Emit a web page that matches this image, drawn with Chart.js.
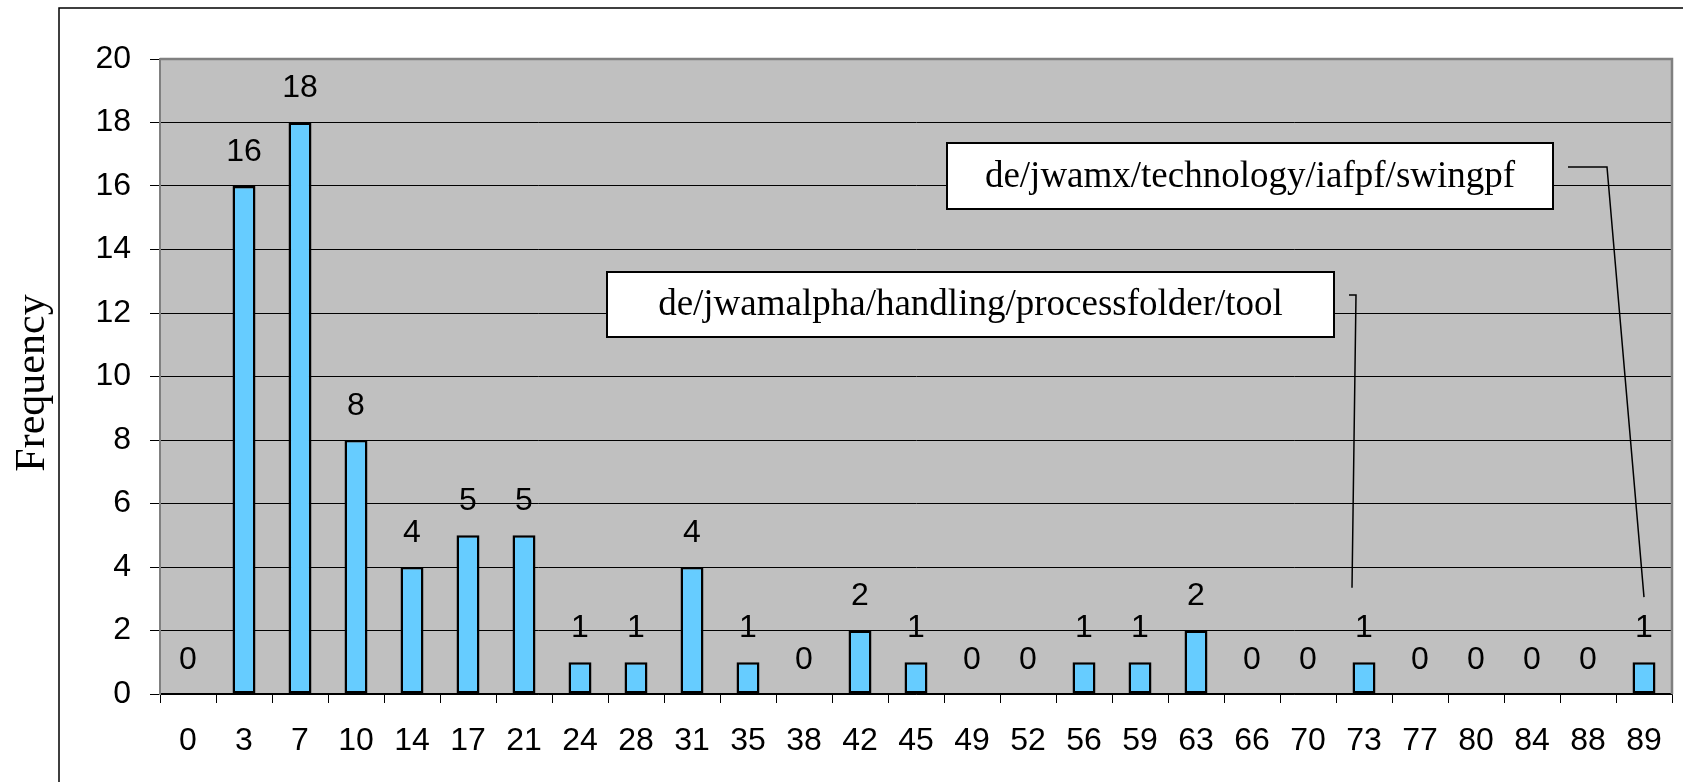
<!DOCTYPE html>
<html>
<head>
<meta charset="utf-8">
<title>Frequency</title>
<script src="https://cdn.jsdelivr.net/npm/chart.js@4.4.0/dist/chart.umd.min.js"></script>
<style>
  html, body { margin: 0; padding: 0; background: #ffffff; }
  canvas { display: block; }
</style>
</head>
<body>
<canvas id="chart" width="1683" height="782"></canvas>
<script>
// Bin labels along the x axis
const categories = ['0','3','7','10','14','17','21','24','28','31','35','38','42','45','49','52','56','59','63','66','70','73','77','80','84','88','89'];
// Count of packages per bin
const frequency = [0,16,18,8,4,5,5,1,1,4,1,0,2,1,0,0,1,1,2,0,0,1,0,0,0,0,1];
// Y axis range and step
const yMin = 0, yMax = 20, yStep = 2;
// Callout texts and the bins they point at
const calloutTexts = ['de/jwamalpha/handling/processfolder/tool', 'de/jwamx/technology/iafpf/swingpf'];
const calloutBins = ['73', '89'];

const SANS = '"Liberation Sans", Arial, sans-serif';
const SERIF = '"Liberation Serif", "Times New Roman", serif';
const LABEL_SIZE = 32;

const decorations = {
  id: 'decorations',
  beforeDraw(chart) {
    const { ctx, chartArea: a } = chart;
    ctx.save();
    ctx.fillStyle = '#ffffff';
    ctx.fillRect(0, 0, chart.width, chart.height);
    // outer frame
    ctx.strokeStyle = '#000000';
    ctx.lineWidth = 1.5;
    ctx.beginPath();
    ctx.moveTo(59, chart.height);
    ctx.lineTo(59, 8);
    ctx.lineTo(chart.width, 8);
    ctx.stroke();
    // plot background
    ctx.fillStyle = '#c0c0c0';
    ctx.fillRect(a.left, a.top, a.right - a.left, a.bottom - a.top);
    // y axis title
    ctx.translate(33, 383);
    ctx.rotate(-Math.PI / 2);
    ctx.fillStyle = '#000000';
    ctx.font = '42px ' + SERIF;
    ctx.textAlign = 'center';
    ctx.textBaseline = 'middle';
    ctx.fillText('Frequency', 0, 0);
    ctx.restore();
  },
  afterDatasetsDraw(chart) {
    const { ctx, chartArea: a } = chart;
    ctx.save();
    // plot frame (top and right)
    ctx.strokeStyle = '#808080';
    ctx.lineWidth = 2.5;
    ctx.beginPath();
    ctx.moveTo(a.left, a.top);
    ctx.lineTo(a.right, a.top);
    ctx.lineTo(a.right, a.bottom);
    ctx.stroke();
    // value labels above bars
    const meta = chart.getDatasetMeta(0);
    ctx.fillStyle = '#000000';
    ctx.font = LABEL_SIZE + 'px ' + SANS;
    ctx.textAlign = 'center';
    ctx.textBaseline = 'middle';
    meta.data.forEach((bar, i) => {
      ctx.fillText(String(frequency[i]), bar.x, bar.y - 34);
    });
    ctx.restore();
  },
  afterDraw(chart) {
    const { ctx } = chart;
    const xs = chart.scales.x, ys = chart.scales.y;
    const boxes = [
      { x0: 607, y0: 272, x1: 1334, y1: 337, hook: [1349, 1356, 295], tipVal: 3.35, tipDx: -12 },
      { x0: 947, y0: 143, x1: 1553, y1: 209, hook: [1568, 1607, 167], tipVal: 3.05, tipDx: 0 }
    ];
    ctx.save();
    boxes.forEach((b, i) => {
      const tipX = xs.getPixelForValue(categories.indexOf(calloutBins[i])) + b.tipDx;
      const tipY = ys.getPixelForValue(b.tipVal);
      ctx.strokeStyle = '#000000';
      ctx.lineWidth = 1.5;
      ctx.beginPath();
      ctx.moveTo(b.hook[0], b.hook[2]);
      ctx.lineTo(b.hook[1], b.hook[2]);
      ctx.lineTo(tipX, tipY);
      ctx.stroke();
      ctx.fillStyle = '#ffffff';
      ctx.fillRect(b.x0, b.y0, b.x1 - b.x0, b.y1 - b.y0);
      ctx.lineWidth = 2;
      ctx.strokeRect(b.x0, b.y0, b.x1 - b.x0, b.y1 - b.y0);
      ctx.fillStyle = '#000000';
      ctx.font = '37px ' + SERIF;
      ctx.textAlign = 'center';
      ctx.textBaseline = 'middle';
      ctx.fillText(calloutTexts[i], (b.x0 + b.x1) / 2, (b.y0 + b.y1) / 2 + 1);
    });
    ctx.restore();
  }
};

new Chart(document.getElementById('chart'), {
  type: 'bar',
  data: {
    labels: categories,
    datasets: [{
      data: frequency,
      backgroundColor: '#66ccff',
      borderColor: '#000000',
      borderWidth: 2.5,
      borderSkipped: false,
      barPercentage: 0.41,
      categoryPercentage: 1.0
    }]
  },
  options: {
    responsive: false,
    animation: false,
    devicePixelRatio: 1,
    layout: { padding: { left: 0, top: 59, right: 11, bottom: 0 } },
    plugins: { legend: { display: false }, tooltip: { enabled: false }, title: { display: false } },
    scales: {
      x: {
        offset: true,
        grid: { offset: true, drawOnChartArea: false, drawTicks: true, tickLength: 9, color: '#000000', lineWidth: 1 },
        border: { color: '#000000', width: 1.5 },
        ticks: { color: '#000000', font: { family: SANS, size: LABEL_SIZE }, padding: 19, maxRotation: 0, autoSkip: false },
        afterFit(scale) { scale.height = 88; }
      },
      y: {
        min: yMin, max: yMax,
        grid: { color: '#000000', lineWidth: 1, drawTicks: true, tickLength: 10 },
        border: { color: '#808080', width: 2 },
        ticks: { stepSize: yStep, color: '#000000', font: { family: SANS, size: LABEL_SIZE }, padding: 19 },
        afterFit(scale) { scale.width = 160; }
      }
    }
  },
  plugins: [decorations]
});
</script>
</body>
</html>
